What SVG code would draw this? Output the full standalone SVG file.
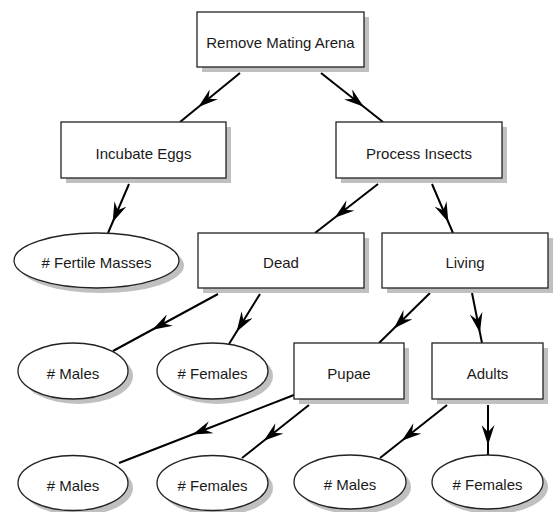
<svg xmlns="http://www.w3.org/2000/svg" width="554" height="512" viewBox="0 0 554 512">
<defs>
<style>
.box{fill:#fff;stroke:#222;stroke-width:1.3}
.sh{fill:#c0c0c0}
.t{font-family:"Liberation Sans",Arial,sans-serif;font-size:15px;fill:#1a1a1a;text-anchor:middle}
.c{fill:none;stroke:#000;stroke-width:2;marker-mid:url(#ah)}
</style>
<marker id="ah" markerUnits="userSpaceOnUse" viewBox="0 0 20 13" markerWidth="20" markerHeight="13" refX="5" refY="6.5" orient="auto">
<path d="M0,0 L20,6.5 L0,13 L7,6.5 Z" fill="#000"/>
</marker>
</defs>
<g id="connectors">
<path class="c" d="M240,73 L210,97.5 L180,122"/>
<path class="c" d="M321,73 L352,97.5 L383,122"/>
<path class="c" d="M129,184 L118.5,208.5 L108,233"/>
<path class="c" d="M378,184 L346.5,208.5 L315,233"/>
<path class="c" d="M432,184 L442.5,208.5 L453,233"/>
<path class="c" d="M218,294 L165.5,322.5 L113,351"/>
<path class="c" d="M260,294 L244.5,319 L229,344"/>
<path class="c" d="M430,293 L404.5,318 L379,343"/>
<path class="c" d="M472,293 L477,318 L482,343"/>
<path class="c" d="M294,395 L206.5,429 L119,463"/>
<path class="c" d="M309,405 L275.5,431.5 L242,458"/>
<path class="c" d="M447,405 L413.5,431.5 L380,458"/>
<path class="c" d="M488,405 L488,430 L488,455"/>
</g>
<g id="n_remove"><rect class="sh" x="202" y="17" width="167" height="55"/><rect class="box" x="197" y="12" width="167" height="55"/><text class="t" x="280.5" y="48">Remove Mating Arena</text></g>
<g id="n_incubate"><rect class="sh" x="66" y="127" width="165" height="56"/><rect class="box" x="61" y="122" width="165" height="56"/><text class="t" x="143.5" y="158.5">Incubate Eggs</text></g>
<g id="n_process"><rect class="sh" x="341" y="127" width="166" height="56"/><rect class="box" x="336" y="122" width="166" height="56"/><text class="t" x="419" y="158.5">Process Insects</text></g>
<g id="n_fertile"><ellipse class="sh" cx="101.5" cy="265.5" rx="82.5" ry="27.5"/><ellipse class="box" cx="96.5" cy="260.5" rx="82.5" ry="27.5"/><text class="t" x="96.5" y="268"># Fertile Masses</text></g>
<g id="n_dead"><rect class="sh" x="203" y="238" width="166" height="55"/><rect class="box" x="198" y="233" width="166" height="55"/><text class="t" x="281" y="268">Dead</text></g>
<g id="n_living"><rect class="sh" x="387" y="238" width="166" height="55"/><rect class="box" x="382" y="233" width="166" height="55"/><text class="t" x="465" y="268">Living</text></g>
<g id="n_males1"><ellipse class="sh" cx="78" cy="376" rx="55" ry="28"/><ellipse class="box" cx="73" cy="371" rx="55" ry="28"/><text class="t" x="73" y="379"># Males</text></g>
<g id="n_females1"><ellipse class="sh" cx="217.5" cy="376" rx="55.5" ry="28"/><ellipse class="box" cx="212.5" cy="371" rx="55.5" ry="28"/><text class="t" x="212.5" y="379"># Females</text></g>
<g id="n_pupae"><rect class="sh" x="299" y="348" width="110" height="56"/><rect class="box" x="294" y="343" width="110" height="56"/><text class="t" x="349" y="379">Pupae</text></g>
<g id="n_adults"><rect class="sh" x="437" y="348" width="111" height="56"/><rect class="box" x="432" y="343" width="111" height="56"/><text class="t" x="487.5" y="379">Adults</text></g>
<g id="n_males2"><ellipse class="sh" cx="78" cy="488" rx="55" ry="27.5"/><ellipse class="box" cx="73" cy="483" rx="55" ry="27.5"/><text class="t" x="73" y="491"># Males</text></g>
<g id="n_females2"><ellipse class="sh" cx="217.5" cy="488" rx="55.5" ry="27.5"/><ellipse class="box" cx="212.5" cy="483" rx="55.5" ry="27.5"/><text class="t" x="212.5" y="491"># Females</text></g>
<g id="n_males3"><ellipse class="sh" cx="355" cy="487" rx="56" ry="27"/><ellipse class="box" cx="350" cy="482" rx="56" ry="27"/><text class="t" x="350" y="490"># Males</text></g>
<g id="n_females3"><ellipse class="sh" cx="492.5" cy="487" rx="55.5" ry="27"/><ellipse class="box" cx="487.5" cy="482" rx="55.5" ry="27"/><text class="t" x="487.5" y="490"># Females</text></g>
</svg>
